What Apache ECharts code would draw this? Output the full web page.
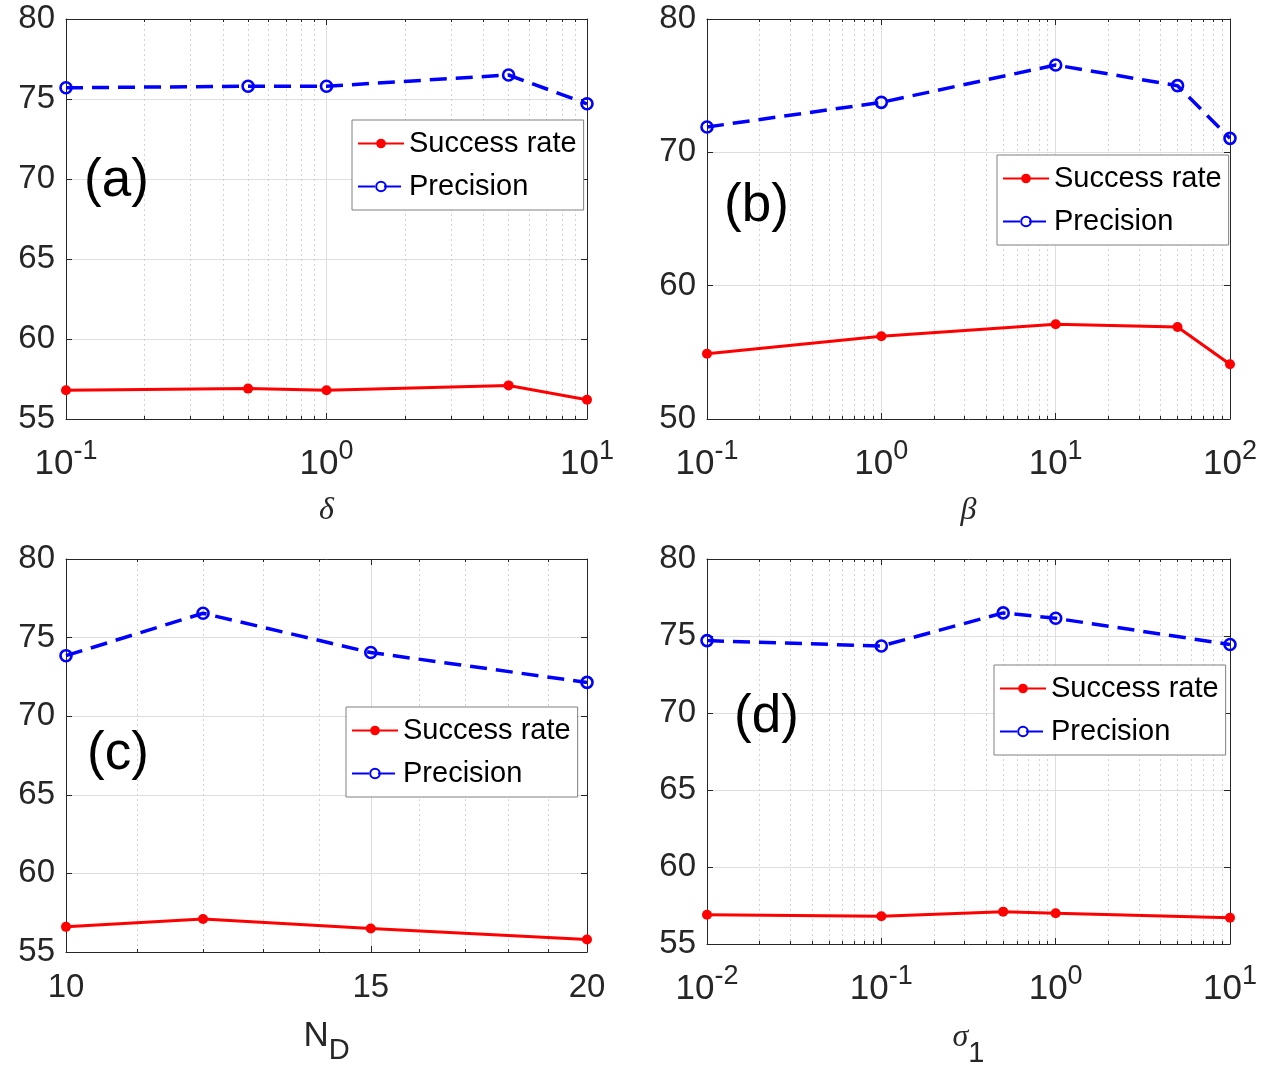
<!DOCTYPE html>
<html><head><meta charset="utf-8">
<script src="https://cdn.jsdelivr.net/npm/echarts@6/dist/echarts.min.js"></script>
<style>html,body{margin:0;padding:0;background:#fff}#c{width:1270px;height:1075px}</style>
</head><body><div id="c"></div>
<script>
// ---------------- data ----------------
const deltaValues = [0.1, 0.5, 1, 5, 10];
const deltaSuccess = [56.8, 56.9, 56.8, 57.1, 56.2];
const deltaPrecision = [75.7, 75.8, 75.8, 76.5, 74.7];

const betaValues = [0.1, 1, 10, 50, 100];
const betaSuccess = [54.9, 56.2, 57.1, 56.9, 54.1];
const betaPrecision = [71.9, 73.75, 76.55, 75.0, 71.05];

const ndValues = [10, 12, 15, 20];
const ndSuccess = [56.6, 57.1, 56.5, 55.8];
const ndPrecision = [73.85, 76.55, 74.05, 72.15];

const sigmaValues = [0.01, 0.1, 0.5, 1, 10];
const sigmaSuccess = [56.9, 56.8, 57.1, 57.0, 56.7];
const sigmaPrecision = [74.7, 74.35, 76.5, 76.15, 74.45];

// tick values
const aMajorTicks = [0.1, 1, 10];
const bMajorTicks = [0.1, 1, 10, 100];
const cMajorTicks = [10, 15, 20];
const cMinorTicks = [11, 12, 13, 14, 16, 17, 18, 19];
const dMajorTicks = [0.01, 0.1, 1, 10];
const panelLabels = ['(a)', '(b)', '(c)', '(d)'];
const seriesNames = ['Success rate', 'Precision'];

function logMinor(majors) {
  const out = [];
  for (let i = 0; i < majors.length - 1; i++) {
    for (let k = 2; k <= 9; k++) out.push(+(majors[i] * k).toPrecision(6));
  }
  return out;
}

// ---------------- styles ----------------
const FONT = '"Liberation Sans", Arial, Helvetica, sans-serif';
const SERIF = '"Liberation Serif", "Times New Roman", serif';
const AX = '#262626';
const GRID_MAJOR = '#dedede';
const GRID_MINOR = '#d2d2d2';

const panels = [
  { x: deltaValues, s: deltaSuccess, p: deltaPrecision, xmin: 0.1, xmax: 10, major: aMajorTicks, minor: logMinor(aMajorTicks), ymin: 55, ymax: 80, yint: 5, sup: true,
    name: '{i|δ}', grid: { left: 66, top: 19, width: 521, height: 400 }, nameGap: 76, legend: { left: 352, top: 120 }, label: { left: 84, top: 155 } },
  { x: betaValues, s: betaSuccess, p: betaPrecision, xmin: 0.1, xmax: 100, major: bMajorTicks, minor: logMinor(bMajorTicks), ymin: 50, ymax: 80, yint: 10, sup: true,
    name: '{i|β}', grid: { left: 707, top: 19, width: 523, height: 400 }, nameGap: 76, legend: { left: 997, top: 155 }, label: { left: 724, top: 180 } },
  { x: ndValues, s: ndSuccess, p: ndPrecision, xmin: 10, xmax: 20, major: cMajorTicks, minor: cMinorTicks, ymin: 55, ymax: 80, yint: 5, sup: false,
    name: '{n|N}{d|D}', grid: { left: 66, top: 559, width: 521, height: 393 }, nameGap: 67, legend: { left: 346, top: 707 }, label: { left: 87, top: 728 } },
  { x: sigmaValues, s: sigmaSuccess, p: sigmaPrecision, xmin: 0.01, xmax: 10, major: dMajorTicks, minor: logMinor(dMajorTicks), ymin: 55, ymax: 80, yint: 5, sup: true,
    name: '{i|σ}{d|1}', grid: { left: 707, top: 559, width: 523, height: 385 }, nameGap: 78, legend: { left: 994, top: 665 }, label: { left: 734, top: 691 } }
];

const nameRich = {
  i: { fontFamily: SERIF, fontStyle: 'italic', fontSize: 32, color: AX, verticalAlign: 'top', lineHeight: 32 },
  n: { fontFamily: FONT, fontSize: 35, color: AX, verticalAlign: 'top', lineHeight: 35 },
  d: { fontFamily: FONT, fontSize: 29, color: AX, verticalAlign: 'top', lineHeight: 29, padding: [17, 0, 0, 0] }
};

const grids = [], xAxes = [], yAxes = [], series = [], legends = [], titles = [];

panels.forEach((P, i) => {
  grids.push(Object.assign({ containLabel: false }, P.grid));
  const common = { type: 'log', logBase: 10, gridIndex: i, min: P.xmin, max: P.xmax, silent: true };
  // main bottom axis
  xAxes.push(Object.assign({}, common, {
    position: 'bottom',
    axisLine: { show: true, onZero: false, lineStyle: { color: AX, width: 1 } },
    axisTick: { show: true, inside: true, length: 6, customValues: P.major, lineStyle: { color: AX } },
    axisLabel: {
      show: true, customValues: P.major, margin: 19, color: AX, fontFamily: FONT, fontSize: 33,
      showMinLabel: true, showMaxLabel: true, hideOverlap: false,
      formatter: P.sup ? (v => '{b|10}{s|' + Math.round(Math.log10(v)) + '}') : (v => String(Math.round(v))),
      rich: {
        b: { fontFamily: FONT, fontSize: 35, color: AX, verticalAlign: 'bottom' },
        s: { fontFamily: FONT, fontSize: 27, color: AX, verticalAlign: 'bottom', padding: [0, 0, 17, 0] }
      }
    },
    splitLine: { show: true, lineStyle: { color: GRID_MAJOR, width: 1 } },
    name: P.name, nameLocation: 'middle', nameGap: P.nameGap,
    nameTextStyle: { rich: nameRich }
  }));
  // minor bottom axis
  xAxes.push(Object.assign({}, common, {
    position: 'bottom',
    axisLine: { show: false, onZero: false },
    axisTick: { show: true, inside: true, length: 3, customValues: P.minor, lineStyle: { color: AX } },
    axisLabel: { show: false },
    splitLine: { show: true, lineStyle: { color: GRID_MINOR, width: 1, type: [2, 3] } }
  }));
  // top axes (box)
  xAxes.push(Object.assign({}, common, {
    position: 'top',
    axisLine: { show: true, onZero: false, lineStyle: { color: AX, width: 1 } },
    axisTick: { show: true, inside: true, length: 6, customValues: P.major, lineStyle: { color: AX } },
    axisLabel: { show: false },
    splitLine: { show: false }
  }));
  xAxes.push(Object.assign({}, common, {
    position: 'top',
    axisLine: { show: false, onZero: false },
    axisTick: { show: true, inside: true, length: 3, customValues: P.minor, lineStyle: { color: AX } },
    axisLabel: { show: false },
    splitLine: { show: false }
  }));
  // y axes
  const ycommon = { type: 'value', gridIndex: i, min: P.ymin, max: P.ymax, interval: P.yint, silent: true };
  yAxes.push(Object.assign({}, ycommon, {
    position: 'left',
    axisLine: { show: true, onZero: false, lineStyle: { color: AX, width: 1 } },
    axisTick: { show: true, inside: true, length: 6, lineStyle: { color: AX } },
    axisLabel: { show: true, margin: 11, color: AX, fontFamily: FONT, fontSize: 33, padding: [3, 0, 0, 0] },
    splitLine: { show: true, lineStyle: { color: GRID_MAJOR, width: 1 } }
  }));
  yAxes.push(Object.assign({}, ycommon, {
    position: 'right',
    axisLine: { show: true, onZero: false, lineStyle: { color: AX, width: 1 } },
    axisTick: { show: true, inside: true, length: 6, lineStyle: { color: AX } },
    axisLabel: { show: false },
    splitLine: { show: false }
  }));
  // series
  series.push({
    type: 'line', name: seriesNames[0], xAxisIndex: i * 4, yAxisIndex: i * 2,
    data: P.x.map((x, j) => [x, P.s[j]]),
    symbol: 'circle', symbolSize: 10,
    lineStyle: { color: '#ff0000', width: 3 },
    itemStyle: { color: '#ff0000' },
    z: 5
  });
  series.push({
    type: 'line', name: seriesNames[1], xAxisIndex: i * 4, yAxisIndex: i * 2,
    data: P.x.map((x, j) => [x, P.p[j]]),
    symbol: 'circle', symbolSize: 11,
    lineStyle: { color: '#0000ff', width: 3.5, type: [17, 9] },
    itemStyle: { color: 'rgba(255,255,255,0)', borderColor: '#0000ff', borderWidth: 2.6 },
    z: 5
  });
  legends.push({
    orient: 'vertical', left: P.legend.left, top: P.legend.top,
    backgroundColor: '#fff', borderColor: '#808080', borderWidth: 1,
    padding: [9, 7, 9, 5], itemGap: 14, itemWidth: 46, itemHeight: 12,
    textStyle: { fontSize: 29, color: '#000', fontFamily: FONT },
    data: seriesNames.slice(), selectedMode: false
  });
  titles.push({
    text: panelLabels[i], left: P.label.left, top: P.label.top, padding: 0,
    textStyle: { fontSize: 53, fontWeight: 'normal', color: '#000', fontFamily: FONT }
  });
});

const chart = echarts.init(document.getElementById('c'), null, { renderer: 'canvas' });
chart.setOption({
  backgroundColor: '#fff',
  animation: false,
  title: titles,
  legend: legends,
  grid: grids,
  xAxis: xAxes,
  yAxis: yAxes,
  series: series
});
</script></body></html>
